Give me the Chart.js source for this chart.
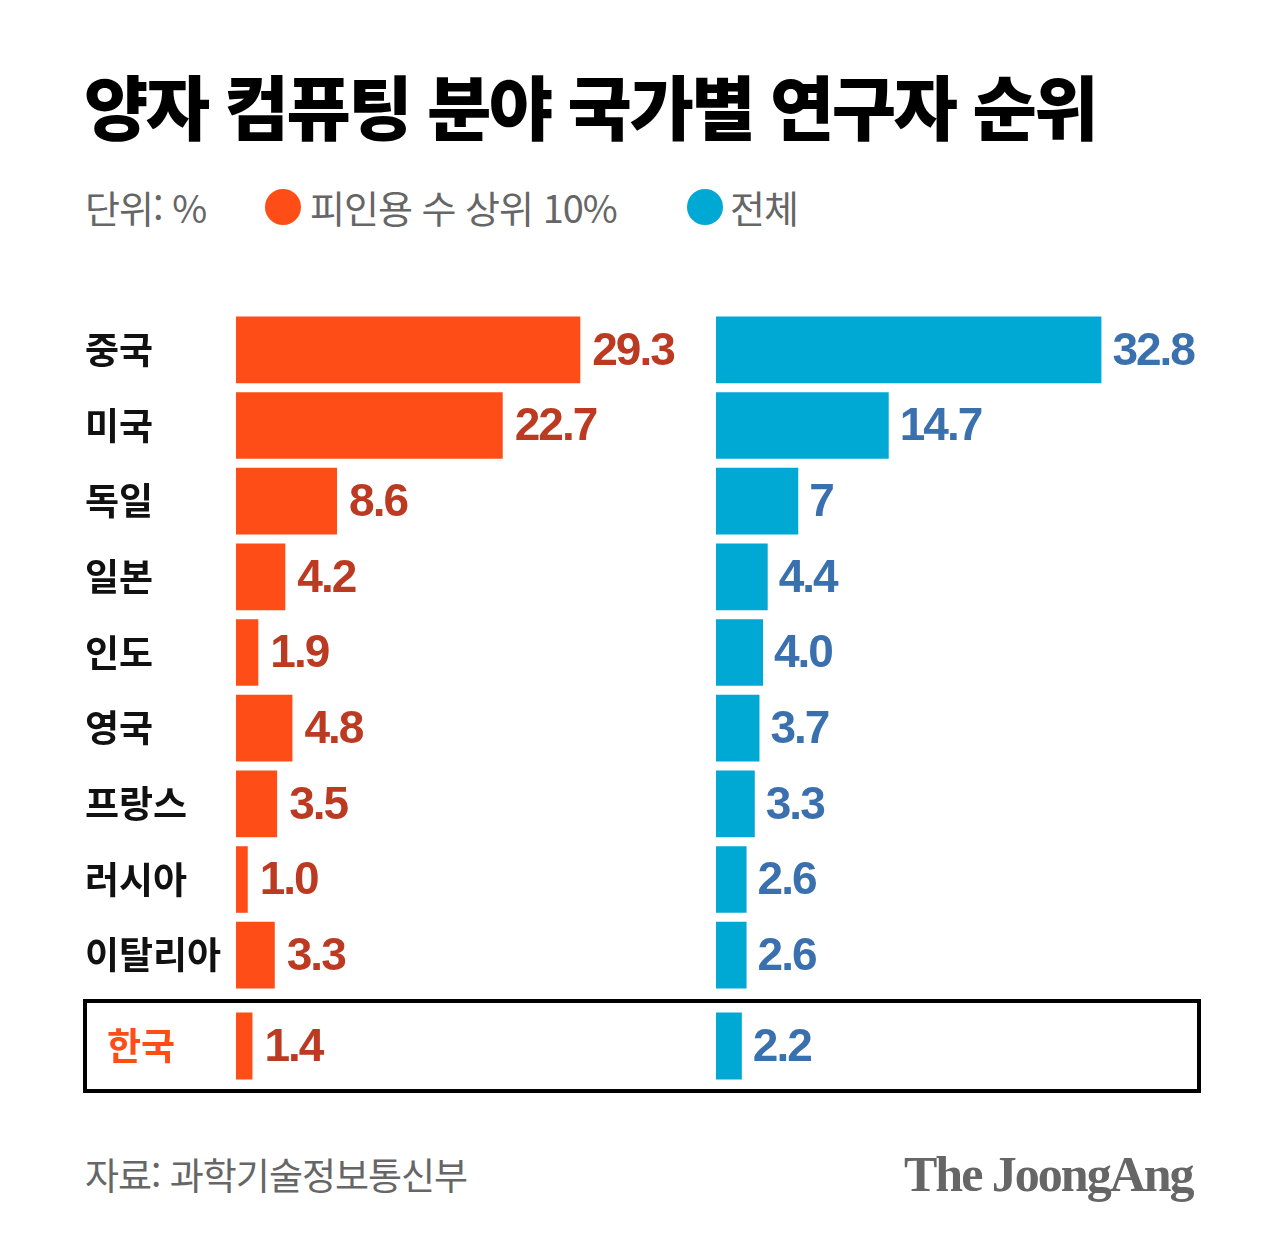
<!DOCTYPE html>
<html lang="ko">
<head>
<meta charset="utf-8">
<script src="https://cdn.jsdelivr.net/npm/chart.js@4.4.1/dist/chart.umd.min.js"></script>
<style>
  html, body { margin: 0; padding: 0; background: #ffffff; }
  body { width: 1280px; height: 1253px; position: relative; overflow: hidden; font-family: "Noto Sans CJK KR", "Noto Sans", sans-serif; }
  .abs { position: absolute; }
  #title { left: 84px; top: 70px; font-size: 70px; line-height: 70px; font-weight: 900; letter-spacing: -2.6px; color: #000; white-space: nowrap; }
  .legtxt { top: 186px; font-size: 38px; line-height: 42px; color: #666; letter-spacing: -1px; white-space: nowrap; }
  .dot { top: 189px; width: 36px; height: 36px; border-radius: 50%; }
  #box { left: 83px; top: 999px; width: 1118px; height: 94px; border: 4px solid #000; box-sizing: border-box; }
  #source { left: 85px; top: 1153px; font-size: 37px; line-height: 42px; color: #666; letter-spacing: -1px; white-space: nowrap; }
  #logo { left: 904px; top: 1146px; font-family: "Liberation Serif", "DejaVu Serif", serif; font-weight: bold; font-size: 50px; line-height: 56px; color: #666; letter-spacing: -2px; white-space: nowrap; }
</style>
</head>
<body>
<div id="title" class="abs"></div>
<div id="unit" class="abs legtxt" style="left:85px"></div>
<div id="dot0" class="abs dot" style="left:265px"></div>
<div id="leg0" class="abs legtxt" style="left:310px"></div>
<div id="dot1" class="abs dot" style="left:687px"></div>
<div id="leg1" class="abs legtxt" style="left:730px"></div>

<div class="abs" style="left:85px; top:312px; width:621px; height:681px;"><canvas id="cTopLeft" width="621" height="681"></canvas></div>
<div class="abs" style="left:716px; top:312px; width:490px; height:681px;"><canvas id="cTopRight" width="490" height="681"></canvas></div>

<div id="box" class="abs"></div>
<div class="abs" style="left:107px; top:1008px; width:599px; height:76px;"><canvas id="cKorLeft" width="599" height="76"></canvas></div>
<div class="abs" style="left:716px; top:1008px; width:480px; height:76px;"><canvas id="cKorRight" width="480" height="76"></canvas></div>

<div id="source" class="abs"></div>
<div id="logo" class="abs"></div>

<script>
// ---- data ----
const titleText = '양자 컴퓨팅 분야 국가별 연구자 순위';
const unitText = '단위: %';
const seriesNames = ['피인용 수 상위 10%', '전체'];
const categories = ['중국', '미국', '독일', '일본', '인도', '영국', '프랑스', '러시아', '이탈리아'];
const top10Values = [29.3, 22.7, 8.6, 4.2, 1.9, 4.8, 3.5, 1.0, 3.3];
const totalValues = [32.8, 14.7, 7, 4.4, 4.0, 3.7, 3.3, 2.6, 2.6];
const top10Labels = ['29.3', '22.7', '8.6', '4.2', '1.9', '4.8', '3.5', '1.0', '3.3'];
const totalLabels = ['32.8', '14.7', '7', '4.4', '4.0', '3.7', '3.3', '2.6', '2.6'];
const highlightCategory = ['한국'];
const highlightTop10 = [1.4];
const highlightTotal = [2.2];
const highlightTop10Labels = ['1.4'];
const highlightTotalLabels = ['2.2'];
const sourceText = '자료: 과학기술정보통신부';
const logoText = 'The JoongAng';

// ---- styles ----
const orange = '#FF4D17';
const blue = '#00A8D4';
const orangeText = '#BC3A22';
const blueText = '#3A70AE';
const axisMax = 40;

document.getElementById('title').textContent = titleText;
document.getElementById('unit').textContent = unitText;
document.getElementById('leg0').textContent = seriesNames[0];
document.getElementById('leg1').textContent = seriesNames[1];
document.getElementById('dot0').style.background = orange;
document.getElementById('dot1').style.background = blue;
document.getElementById('source').textContent = sourceText;
document.getElementById('logo').textContent = logoText;

const valueLabelPlugin = {
  id: 'valueLabels',
  afterDatasetsDraw(chart, args, opts) {
    const ctx = chart.ctx;
    const meta = chart.getDatasetMeta(0);
    ctx.save();
    ctx.font = 'bold 46px "Liberation Sans", Arial, sans-serif';
    if ('letterSpacing' in ctx) ctx.letterSpacing = '-2px';
    ctx.fillStyle = opts.color;
    ctx.textAlign = 'left';
    ctx.textBaseline = 'middle';
    meta.data.forEach((bar, i) => {
      ctx.fillText(opts.labels[i], bar.x + opts.offset, bar.y + 2);
    });
    ctx.restore();
  }
};

function makeChart(id, labels, values, color, textLabels, textColor, offset, showAxis, axisWidth, tickColor, rightPad) {
  return new Chart(document.getElementById(id), {
    type: 'bar',
    data: {
      labels: labels,
      datasets: [{
        data: values,
        backgroundColor: color,
        borderWidth: 0,
        barPercentage: 0.88,
        categoryPercentage: 1.0
      }]
    },
    options: {
      indexAxis: 'y',
      responsive: false,
      animation: false,
      layout: { padding: { left: 0, right: rightPad, top: 0, bottom: 0 } },
      plugins: {
        legend: { display: false },
        tooltip: { enabled: false },
        valueLabels: { labels: textLabels, color: textColor, offset: offset }
      },
      scales: {
        x: { display: false, min: 0, max: axisMax, grid: { display: false } },
        y: {
          display: showAxis,
          grid: { display: false, drawTicks: false },
          border: { display: false },
          ticks: {
            crossAlign: 'far',
            padding: 0,
            color: tickColor,
            font: { family: '"Noto Sans CJK KR", sans-serif', size: 37, weight: 'bold' }
          },
          afterFit(scale) {
            scale.width = axisWidth;
            scale.paddingTop = 0;
            scale.paddingBottom = 0;
            scale.paddingLeft = 0;
            scale.paddingRight = 0;
          }
        }
      }
    },
    plugins: [valueLabelPlugin]
  });
}

makeChart('cTopLeft', categories, top10Values, orange, top10Labels, orangeText, 12, true, 151, '#111111', 0);
makeChart('cTopRight', categories, totalValues, blue, totalLabels, blueText, 11, false, 0, '#111111', 20);
makeChart('cKorLeft', highlightCategory, highlightTop10, orange, highlightTop10Labels, orangeText, 12, true, 129, orange, 0);
makeChart('cKorRight', highlightCategory, highlightTotal, blue, highlightTotalLabels, blueText, 11, false, 0, orange, 10);
</script>
</body>
</html>
